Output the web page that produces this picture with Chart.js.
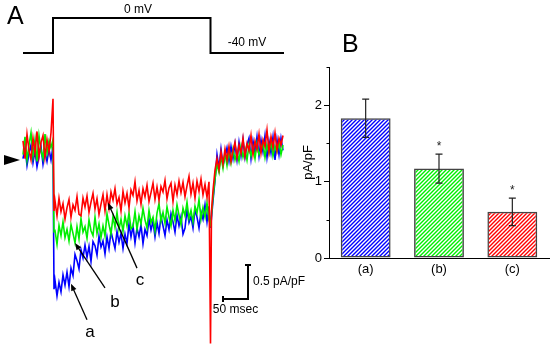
<!DOCTYPE html>
<html>
<head>
<meta charset="utf-8">
<script src="https://cdn.jsdelivr.net/npm/chart.js@4.4.0/dist/chart.umd.min.js"></script>
<style>
  html, body { margin: 0; padding: 0; background: #fff; }
  #wrap { position: relative; width: 550px; height: 348px; overflow: hidden; }
  #traceBox { position: absolute; left: 0; top: 0; width: 320px; height: 348px; }
  #barBox { position: absolute; left: 280px; top: 0; width: 270px; height: 348px; }
</style>
</head>
<body>
<div id="wrap">
  <div id="traceBox"><canvas id="traceChart"></canvas></div>
  <div id="barBox"><canvas id="barChart"></canvas></div>
</div>
<script>
// ---- panel A: current traces (time in ms from pulse onset, current in pA/pF) ----
const timeMs = [
  -60, -56, -52, -48, -44, -40, -36, -32, -28, -24, -20, -16, -12, -8, -4,
  0, 2,
  4, 8, 12, 16, 20, 24, 28, 32, 36, 40, 44, 48, 52,
  56, 60, 64, 68, 72, 76, 80, 84, 88, 92, 96, 100, 104,
  108, 112, 116, 120, 124, 128, 132, 136, 140, 144, 148, 152, 156,
  160, 164, 168, 172, 176, 180, 184, 188, 192, 196, 200, 204, 208,
  212, 216, 220, 224, 228, 232, 236, 240, 244, 248, 252, 256, 260,
  264, 268, 272, 276, 280, 284, 288, 292, 296, 300, 304, 308, 312,
  315, 317,
  320, 324, 328, 332, 336, 340, 344, 348, 352, 356, 360, 364,
  368, 372, 376, 380, 384, 388, 392, 396, 400, 404, 408, 412,
  416, 420, 424, 428, 432, 436, 440, 444, 448, 452, 456, 460
];

// (c) red
const currentC = [
  0.28, 0.02, 0.38, 0.14, 0.0, 0.32, 0.1, 0.42, 0.05, 0.26, 0.36, 0.04, 0.3, 0.12, 0.4,
  0.9, -0.75,
  -0.60, -0.82, -0.56, -0.76, -0.64, -0.87, -0.70, -0.58, -0.84, -0.66, -0.74, -0.54, -0.80,
  -0.82, -0.56, -0.69, -0.53, -0.77, -0.62, -0.49, -0.72, -0.57, -0.80, -0.65, -0.51, -0.75,
  -0.51, -0.71, -0.47, -0.59, -0.42, -0.65, -0.55, -0.75, -0.46, -0.63, -0.49, -0.70, -0.44,
  -0.52, -0.32, -0.60, -0.45, -0.65, -0.42, -0.54, -0.37, -0.61, -0.48, -0.34, -0.58, -0.40,
  -0.59, -0.39, -0.47, -0.30, -0.57, -0.41, -0.34, -0.61, -0.37, -0.51, -0.31, -0.48, -0.33,
  -0.54, -0.38, -0.24, -0.50, -0.34, -0.56, -0.31, -0.46, -0.28, -0.51, -0.36, -0.55, -0.32,
  -2.7, -0.75,
  -0.45, -0.15, 0.02, -0.14, 0.12, -0.06, 0.16, 0.0, 0.2, -0.02, 0.14, 0.26,
  0.04, 0.22, 0.1, 0.32, 0.06, 0.24, 0.14, 0.36, 0.08, 0.28, 0.16, 0.38,
  0.1, 0.3, 0.2, 0.44, 0.12, 0.34, 0.18, 0.4, 0.14, 0.32, 0.22, 0.36
];

// (b) green
const currentB = [
  0.08, 0.34, 0.0, 0.22, 0.4, 0.06, 0.3, -0.02, 0.36, 0.14, 0.02, 0.38, 0.1, 0.28, 0.18,
  0.3, -1.05,
  -1.04, -1.24, -0.96, -1.11, -0.91, -1.14, -1.02, -1.19, -0.95, -1.08, -1.22, -0.98, -1.16,
  -0.86, -1.06, -0.98, -1.15, -0.88, -1.04, -1.11, -0.84, -1.08, -0.94, -1.14, -0.97, -1.12,
  -0.79, -0.95, -1.09, -0.83, -0.99, -0.77, -1.02, -0.87, -1.05, -0.82, -0.97, -0.78, -1.01,
  -0.98, -0.76, -1.02, -0.82, -0.94, -0.71, -0.88, -1.00, -0.74, -0.92, -0.84, -1.04, -0.78,
  -0.64, -0.90, -0.77, -0.93, -0.69, -0.84, -0.97, -0.74, -0.89, -0.66, -0.81, -0.95, -0.71,
  -0.82, -0.62, -0.86, -0.74, -0.91, -0.68, -0.78, -0.58, -0.87, -0.70, -0.84, -0.63, -0.89,
  -0.95, -0.8,
  -0.55, -0.28, -0.06, -0.18, 0.06, -0.12, 0.1, -0.08, 0.14, -0.04, 0.16, 0.0,
  0.12, -0.02, 0.2, 0.04, 0.16, 0.0, 0.22, 0.06, 0.18, 0.02, 0.24, 0.08,
  0.14, 0.26, 0.04, 0.22, 0.1, 0.28, 0.06, 0.2, 0.12, 0.26, 0.08, 0.22
];

// (a) blue
const currentA = [
  0.02, 0.18, -0.08, 0.1, 0.22, -0.04, 0.14, -0.1, 0.06, 0.2, -0.06, 0.12, -0.02, 0.16, 0.0,
  0.2, -1.9,
  -1.77, -2.00, -1.80, -1.94, -1.69, -1.84, -1.65, -1.86, -1.59, -1.70, -1.39, -1.48, -1.60,
  -1.32, -1.44, -1.25, -1.43, -1.27, -1.49, -1.20, -1.26, -1.40, -1.12, -1.28, -1.19, -1.38,
  -1.13, -1.30, -1.05, -1.18, -1.30, -1.05, -1.21, -1.08, -1.30, -1.09, -1.23, -0.94, -1.13,
  -0.97, -1.22, -1.00, -1.13, -0.95, -1.23, -1.02, -1.11, -0.87, -1.03, -0.90, -1.13, -0.92,
  -1.08, -0.83, -0.97, -1.11, -0.88, -1.02, -0.79, -0.91, -1.06, -0.81, -0.97, -0.83, -1.09,
  -1.00, -0.73, -0.92, -0.83, -1.00, -0.73, -0.84, -1.00, -0.76, -0.87, -0.66, -0.91, -0.68,
  -1.0, -0.85,
  -0.6, -0.3, 0.08, -0.12, 0.16, -0.08, 0.04, 0.18, -0.02, 0.2, 0.02, 0.24,
  0.0, 0.26, 0.06, 0.3, 0.04, 0.22, 0.32, 0.02, 0.28, 0.1, 0.34, 0.06,
  0.3, 0.12, 0.36, 0.04, 0.28, 0.1, 0.34, 0.0, 0.3, 0.08, 0.32, 0.14
];

// voltage protocol
const protocolTime = [-60, 0, 0, 315, 315, 462];
const protocolMv = [-40, -40, 0, 0, -40, -40];

// arrows pointing at the traces: [label, tipT, tipI, tailT, tailI, textT, textI]
const traceArrows = [
  ['a', 36, -1.82, 68, -2.35, 74, -2.54],
  ['b', 44, -1.22, 104, -1.88, 124, -2.09],
  ['c', 110, -0.63, 168, -1.59, 174, -1.77]
];

// ---- panel B: bar chart ----
const barLabels = ['(a)', '(b)', '(c)'];
const barMeans = [1.83, 1.17, 0.605];
const barErrors = [0.25, 0.19, 0.18];
const barMarks = ['', '*', '*'];

const FONT = '"Liberation Sans", Arial, Helvetica, sans-serif';
Chart.defaults.font.family = FONT;
Chart.defaults.color = '#000';

function toPoints(xs, ys) {
  return xs.map((x, i) => ({ x: x, y: ys[i] }));
}

function drawArrow(ctx, x1, y1, x2, y2) {
  // line from tail (x1,y1) to tip (x2,y2), filled head at the tip
  const ang = Math.atan2(y2 - y1, x2 - x1);
  ctx.beginPath();
  ctx.moveTo(x1, y1);
  ctx.lineTo(x2 - 4 * Math.cos(ang), y2 - 4 * Math.sin(ang));
  ctx.stroke();
  ctx.beginPath();
  ctx.moveTo(x2, y2);
  ctx.lineTo(x2 - 7 * Math.cos(ang) + 2.8 * Math.sin(ang), y2 - 7 * Math.sin(ang) - 2.8 * Math.cos(ang));
  ctx.lineTo(x2 - 7 * Math.cos(ang) - 2.8 * Math.sin(ang), y2 - 7 * Math.sin(ang) + 2.8 * Math.cos(ang));
  ctx.closePath();
  ctx.fill();
}

const traceNotes = {
  id: 'traceNotes',
  afterDraw(chart) {
    const ctx = chart.ctx;
    const xs = chart.scales.x, ys = chart.scales.y, vs = chart.scales.yV;
    ctx.save();
    ctx.fillStyle = '#000';
    ctx.strokeStyle = '#000';

    ctx.font = '25px ' + FONT;
    ctx.textAlign = 'left';
    ctx.textBaseline = 'middle';
    ctx.fillText('A', 7, 17);

    ctx.font = '12px ' + FONT;
    ctx.textAlign = 'center';
    ctx.fillText('0 mV', xs.getPixelForValue(170), vs.getPixelForValue(0) - 8);
    ctx.fillText('-40 mV', xs.getPixelForValue(388), vs.getPixelForValue(-40) - 10);

    // zero current marker
    const y0 = ys.getPixelForValue(0);
    ctx.beginPath();
    ctx.moveTo(4, y0 - 5);
    ctx.lineTo(20, y0);
    ctx.lineTo(4, y0 + 5);
    ctx.closePath();
    ctx.fill();

    // labelled arrows
    ctx.lineWidth = 1.3;
    ctx.font = '17px ' + FONT;
    traceArrows.forEach(a => {
      drawArrow(ctx, xs.getPixelForValue(a[3]), ys.getPixelForValue(a[4]),
        xs.getPixelForValue(a[1]), ys.getPixelForValue(a[2]));
      ctx.fillText(a[0], xs.getPixelForValue(a[5]), ys.getPixelForValue(a[6]));
    });

    // scale bar: 50 ms x 0.5 pA/pF
    const cx = xs.getPixelForValue(390), cy = ys.getPixelForValue(-2.044);
    const lx = xs.getPixelForValue(340), ty = ys.getPixelForValue(-2.044 + 0.5);
    ctx.lineWidth = 2;
    ctx.beginPath();
    ctx.moveTo(lx, cy); ctx.lineTo(cx, cy); ctx.lineTo(cx, ty);
    ctx.moveTo(cx - 3, ty); ctx.lineTo(cx + 3, ty);
    ctx.moveTo(lx, cy - 3); ctx.lineTo(lx, cy + 3);
    ctx.stroke();
    ctx.font = '12px ' + FONT;
    ctx.textAlign = 'left';
    ctx.fillText('0.5 pA/pF', cx + 5, (cy + ty) / 2);
    ctx.textAlign = 'center';
    ctx.fillText('50 msec', (lx + cx) / 2, cy + 11);
    ctx.restore();
  }
};

new Chart(document.getElementById('traceChart').getContext('2d'), {
  type: 'line',
  data: {
    datasets: [
      { data: toPoints(timeMs, currentC), borderColor: '#ff0000', yAxisID: 'y' },
      { data: toPoints(timeMs, currentB), borderColor: '#00ee00', yAxisID: 'y' },
      { data: toPoints(timeMs, currentA), borderColor: '#0000ff', yAxisID: 'y' },
      { data: toPoints(protocolTime, protocolMv), borderColor: '#000', borderWidth: 2, yAxisID: 'yV' }
    ]
  },
  options: {
    animation: false,
    responsive: true,
    maintainAspectRatio: false,
    layout: { padding: 0 },
    plugins: { legend: { display: false }, tooltip: { enabled: false } },
    elements: {
      point: { radius: 0 },
      line: { tension: 0, borderWidth: 1.6 }
    },
    scales: {
      x: { type: 'linear', display: false, min: -106, max: 534 },
      y: { display: false, min: -2.7647, max: 2.3529 },
      yV: { display: false, min: -377.14, max: 20.57 }
    }
  },
  plugins: [traceNotes]
});

// ---- panel B ----
function hatch(color) {
  const c = document.createElement('canvas');
  c.width = 4; c.height = 4;
  const g = c.getContext('2d');
  g.strokeStyle = color;
  g.lineWidth = 1.4;
  g.beginPath();
  g.moveTo(0, 4); g.lineTo(4, 0);
  g.moveTo(-1, 1); g.lineTo(1, -1);
  g.moveTo(3, 5); g.lineTo(5, 3);
  g.stroke();
  return g.createPattern(c, 'repeat');
}

const barExtras = {
  id: 'barExtras',
  afterDatasetsDraw(chart) {
    const ctx = chart.ctx;
    const ys = chart.scales.y;
    const meta = chart.getDatasetMeta(0);
    ctx.save();
    ctx.strokeStyle = '#222';
    ctx.fillStyle = '#222';
    ctx.lineWidth = 1.2;
    meta.data.forEach((bar, i) => {
      const top = ys.getPixelForValue(barMeans[i] + barErrors[i]);
      const bot = ys.getPixelForValue(barMeans[i] - barErrors[i]);
      ctx.beginPath();
      ctx.moveTo(bar.x, top); ctx.lineTo(bar.x, bot);
      ctx.moveTo(bar.x - 3.5, top); ctx.lineTo(bar.x + 3.5, top);
      ctx.moveTo(bar.x - 3.5, bot); ctx.lineTo(bar.x + 3.5, bot);
      ctx.stroke();
      if (barMarks[i]) {
        ctx.font = '12px ' + FONT;
        ctx.textAlign = 'center';
        ctx.textBaseline = 'alphabetic';
        ctx.fillText(barMarks[i], bar.x, top - 4);
      }
    });
    // minor ticks
    ctx.strokeStyle = '#000';
    ctx.lineWidth = 1;
    [0.5, 1.5, 2.5].forEach(v => {
      const y = Math.round(ys.getPixelForValue(v)) + 0.5;
      ctx.beginPath();
      ctx.moveTo(chart.chartArea.left - 2.5, y);
      ctx.lineTo(chart.chartArea.left, y);
      ctx.stroke();
    });
    ctx.font = '25px ' + FONT;
    ctx.fillStyle = '#000';
    ctx.textAlign = 'left';
    ctx.textBaseline = 'middle';
    ctx.fillText('B', 62, 45);
    ctx.restore();
  }
};

new Chart(document.getElementById('barChart').getContext('2d'), {
  type: 'bar',
  data: {
    labels: barLabels,
    datasets: [{
      data: barMeans,
      backgroundColor: [hatch('#0000ff'), hatch('#00ee00'), hatch('#ff0000')],
      borderColor: '#444',
      borderWidth: 1.5,
      borderSkipped: false,
      barPercentage: 0.68,
      categoryPercentage: 1
    }]
  },
  options: {
    animation: false,
    responsive: true,
    maintainAspectRatio: false,
    layout: { padding: { top: 67, right: 1, left: 0, bottom: 0 } },
    plugins: { legend: { display: false }, tooltip: { enabled: false } },
    scales: {
      x: {
        grid: { drawOnChartArea: false, drawTicks: false },
        border: { display: true, color: '#000', width: 1 },
        ticks: { color: '#000', font: { size: 13 }, padding: 4 },
        afterFit(s) { s.height = 90; }
      },
      y: {
        min: 0,
        max: 2.5,
        ticks: {
          stepSize: 0.5,
          color: '#000',
          font: { size: 13 },
          padding: 2,
          callback: v => Number.isInteger(v) ? v : ''
        },
        grid: {
          drawOnChartArea: false,
          drawTicks: true,
          tickLength: 5,
          tickColor: c => (c.tick && Number.isInteger(c.tick.value)) ? '#000' : 'rgba(0,0,0,0)'
        },
        border: { color: '#000', width: 1 },
        title: { display: true, text: 'pA/pF', color: '#000', font: { size: 13 }, padding: { top: 21, bottom: 0 } },
        afterFit(s) { s.width = 49; }
      }
    }
  },
  plugins: [barExtras]
});
</script>
</body>
</html>
